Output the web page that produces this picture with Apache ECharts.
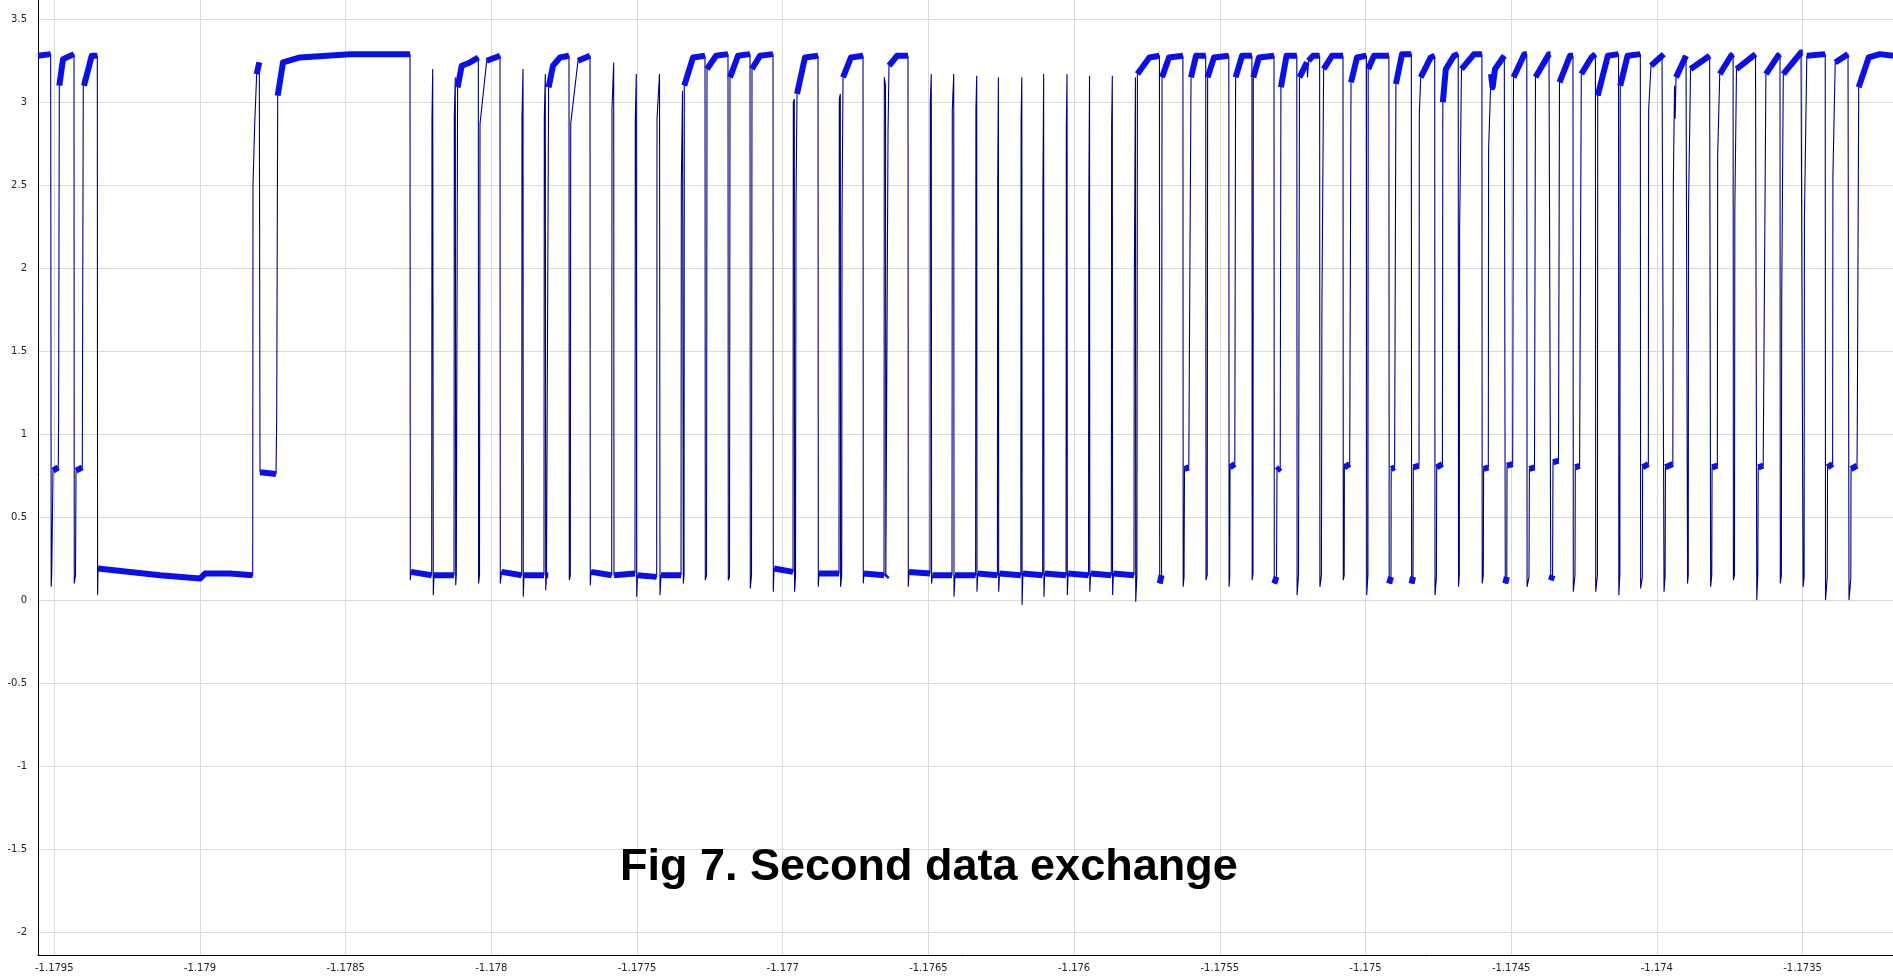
<!DOCTYPE html>
<html>
<head>
<meta charset="utf-8">
<script src="https://cdn.jsdelivr.net/npm/echarts@6/dist/echarts.min.js"></script>
<style>
html,body{margin:0;padding:0;background:#fff;}
#chart{width:1893px;height:977px;}
</style>
</head>
<body>
<div id="chart"></div>
<script>
// Time axis origin (seconds); sample times are stored as microseconds after it
const timeOrigin = -1.1795;
const xRange = [-1.17955594, -1.1731896];
const yRange = [-2.1386, 3.6162];
const chartTitle = 'Fig 7. Second data exchange';

// Trace vertices: time offset (µs after timeOrigin)
const timeUs = [
  -55.9, -12.4, -10.6, -8.9, -5.8, -4.5, 13.7, 14.8, 17.2, 29.9, 67.6,
  68.6, 72.8, 74.5, 96.1, 96.8, 99.5, 101.9, 128.4, 147.6,
  148.6, 150.0, 259.8, 362.8, 500.0, 517.2, 603.0, 680.9,
  681.9, 687.8, 694.6, 703.6, 706.0, 712.8, 760.9, 763.3, 766.7, 784.9, 843.2, 1014.8, 1220.8,
  1221.8, 1224.2, 1295.2, 1296.2, 1298.7, 1300.7, 1303.1, 1371.8,
  1372.8, 1376.2, 1377.6, 1379.7, 1383.1, 1384.1, 1398.2, 1426.7, 1455.2,
  1456.2, 1459.3, 1461.0, 1484.0, 1529.6,
  1530.7, 1534.8, 1604.1, 1605.1, 1608.6, 1609.6, 1612.0, 1680.6,
  1681.7, 1685.1, 1686.5, 1689.2, 1695.4, 1696.4, 1711.5, 1735.5, 1766.4,
  1767.5, 1770.9, 1772.3, 1797.3, 1838.5,
  1839.5, 1842.0, 1913.0, 1914.0, 1919.8, 1920.9, 1992.9,
  1994.0, 1997.4, 1998.8, 2001.5, 2067.4,
  2068.5, 2077.1, 2078.8, 2082.2, 2150.9,
  2151.9, 2156.0, 2158.8, 2161.2, 2162.2, 2192.1, 2233.2,
  2234.2, 2238.4, 2240.1, 2271.0, 2312.1,
  2313.2, 2317.3, 2319.0, 2346.5, 2387.6,
  2388.7, 2392.8, 2394.5, 2421.9, 2466.6,
  2467.6, 2470.0, 2535.2, 2536.3, 2539.7, 2540.7, 2543.8, 2545.5, 2549.0, 2576.4, 2621.1,
  2622.1, 2624.5, 2693.1, 2694.2, 2697.6, 2698.6, 2702.4, 2703.4, 2706.9, 2734.3, 2775.5,
  2776.5, 2778.9, 2847.6, 2848.6, 2852.7, 2853.7, 2859.6, 2861.3, 2864.7, 2892.2, 2929.9,
  2930.9, 2933.3, 3005.4, 3006.4, 3009.8, 3010.9, 3014.0, 3080.9,
  3081.9, 3086.8, 3087.8, 3091.2,
  3161.9, 3163.0, 3165.7, 3166.7, 3169.5,
  3236.7, 3237.7, 3240.1, 3241.2, 3243.9,
  3317.1, 3318.1, 3320.5, 3321.5, 3324.3,
  3392.0, 3393.0, 3395.4, 3396.5, 3399.2,
  3472.3, 3473.3, 3475.7, 3476.7, 3479.5,
  3549.5, 3550.5, 3552.9, 3553.9, 3556.7,
  3627.7, 3628.7, 3631.1, 3632.1, 3634.9,
  3705.5, 3706.6, 3710.4, 3711.4, 3715.5, 3717.2, 3758.4, 3792.8,
  3793.8, 3800.0, 3801.7, 3825.7, 3873.4,
  3874.4, 3877.2, 3878.9, 3893.6, 3895.4, 3901.2, 3918.4, 3951.7,
  3952.7, 3956.8, 3958.2, 3980.2, 4030.9,
  4031.9, 4034.0, 4035.0, 4051.5, 4054.2, 4076.2, 4110.2,
  4111.2, 4114.0, 4115.0, 4134.6, 4186.0,
  4187.0, 4194.6, 4196.3, 4207.3, 4209.7, 4229.0, 4264.3,
  4265.3, 4270.1, 4273.5, 4298.9, 4301.0, 4304.4, 4319.9, 4342.6,
  4343.6, 4348.7, 4350.4, 4356.3, 4385.1, 4422.8,
  4423.8, 4426.9, 4427.6, 4445.8, 4450.3, 4470.9, 4503.1,
  4504.2, 4508.3, 4509.3, 4529.2, 4580.3,
  4581.4, 4587.5, 4588.2, 4599.9, 4604.4, 4625.3, 4657.3,
  4658.3, 4663.1, 4664.1, 4683.7, 4684.7, 4689.5, 4723.8, 4737.5,
  4738.6, 4743.4, 4744.4, 4764.0, 4765.4, 4775.7, 4803.8, 4818.2,
  4819.3, 4822.0, 4823.0, 4829.5, 4872.4, 4899.5,
  4900.6, 4904.3, 4905.4, 4921.5, 4922.5, 4930.8, 4936.3, 4944.5, 4976.4, 4978.8,
  4979.8, 4985.0, 4985.7, 5005.2, 5008.0, 5045.4, 5053.6,
  5054.6, 5061.1, 5062.5, 5080.0, 5083.4, 5129.8, 5134.9,
  5135.9, 5142.1, 5143.5, 5162.4, 5165.8, 5201.8, 5212.1,
  5213.2, 5219.0, 5220.0, 5234.8, 5240.6, 5275.3, 5289.1,
  5290.1, 5296.0, 5297.0, 5331.7, 5368.4,
  5369.5, 5372.9, 5374.3, 5399.4, 5443.2,
  5444.3, 5450.1, 5451.1, 5470.7, 5471.7, 5479.9, 5517.7, 5523.5,
  5524.6, 5528.3, 5529.4, 5554.8, 5556.5, 5560.6, 5562.7, 5565.8, 5600.1, 5604.2,
  5605.3, 5607.7, 5608.7, 5615.6, 5681.1, 5683.5,
  5684.6, 5688.4, 5689.4, 5707.6, 5708.6, 5715.8, 5754.6, 5761.6,
  5762.7, 5766.4, 5767.5, 5773.3, 5838.5, 5841.9,
  5842.9, 5846.4, 5847.8, 5864.9, 5874.2, 5915.7, 5922.6,
  5923.6, 5927.4, 5928.4, 5933.9, 5994.7, 6000.9,
  6001.9, 6005.3, 6006.4, 6014.6, 6077.8,
  6078.8, 6084.7, 6085.7, 6103.2, 6104.2, 6112.1, 6156.0, 6158.4,
  6159.4, 6165.6, 6166.3, 6186.9, 6187.9, 6192.7, 6227.0, 6265.8, 6310.4
];

// Trace vertices: voltage (V)
const volts = [
  3.28, 3.29, 0.08, 0.15, 0.15, 0.78, 0.80, 1.09, 3.10, 3.26, 3.29,
  0.10, 0.15, 0.78, 0.80, 1.32, 3.15, 3.10, 3.28, 3.28,
  0.03, 0.19, 0.17, 0.15, 0.13, 0.16, 0.16, 0.15,
  2.50, 2.87, 3.17, 3.24, 0.77, 0.76, 0.76, 1.10, 3.04, 3.24, 3.27, 3.29, 3.29,
  0.12, 0.17, 0.15, 2.90, 3.20, 0.03, 0.15, 0.15,
  2.91, 3.15, 0.09, 0.15, 0.15, 3.09, 3.22, 3.24, 3.27,
  0.10, 0.15, 2.87, 3.25, 3.28,
  0.10, 0.17, 0.15, 2.90, 3.20, 0.02, 0.15, 0.15,
  2.91, 3.17, 0.06, 0.15, 0.15, 3.09, 3.22, 3.27, 3.28,
  0.12, 0.15, 2.87, 3.25, 3.28,
  0.09, 0.17, 0.15, 2.96, 3.24, 0.15, 0.16,
  2.90, 3.17, 0.02, 0.15, 0.14,
  2.90, 3.17, 0.03, 0.15, 0.15,
  2.50, 3.07, 0.10, 0.15, 3.10, 3.27, 3.28,
  0.12, 0.15, 3.20, 3.28, 3.29,
  0.12, 0.14, 3.15, 3.28, 3.29,
  0.07, 0.15, 3.20, 3.28, 3.29,
  0.05, 0.19, 0.17, 3.00, 3.02, 0.05, 0.15, 2.40, 3.05, 3.27, 3.28,
  0.08, 0.16, 0.16, 3.02, 3.05, 0.08, 0.15, 2.28, 3.15, 3.27, 3.28,
  0.10, 0.16, 0.15, 3.15, 3.10, 0.14, 0.15, 2.82, 3.22, 3.28, 3.28,
  0.08, 0.17, 0.16, 3.00, 3.17, 0.10, 0.15, 0.15,
  2.95, 3.17, 0.02, 0.15,
  0.15, 2.95, 3.16, 0.05, 0.16,
  0.15, 2.50, 3.15, 0.05, 0.16,
  0.15, 2.90, 3.15, -0.03, 0.16,
  0.15, 2.50, 3.17, 0.02, 0.16,
  0.15, 2.85, 3.17, 0.03, 0.16,
  0.15, 2.40, 3.16, 0.05, 0.16,
  0.15, 2.85, 3.16, 0.03, 0.16,
  0.15, 1.90, 3.15, -0.01, 0.15, 3.17, 3.27, 3.28,
  0.10, 0.15, 3.15, 3.27, 3.28,
  0.08, 0.14, 0.79, 0.80, 1.40, 3.15, 3.28, 3.28,
  0.12, 0.15, 3.15, 3.27, 3.28,
  0.08, 0.14, 0.80, 0.82, 3.15, 3.28, 3.28,
  0.12, 0.16, 3.15, 3.27, 3.28,
  0.10, 0.14, 0.78, 0.80, 3.09, 3.28, 3.28,
  0.03, 0.15, 3.15, 3.24, 3.15, 3.25, 3.28, 3.28,
  0.08, 0.15, 1.75, 3.20, 3.28, 3.28,
  0.12, 0.15, 0.80, 0.82, 3.12, 3.27, 3.28,
  0.03, 0.15, 3.20, 3.28, 3.28,
  0.10, 0.14, 0.79, 0.80, 3.11, 3.29, 3.29,
  0.10, 0.14, 0.80, 0.81, 2.93, 3.15, 3.27, 3.28,
  0.03, 0.14, 0.80, 0.82, 3.00, 3.20, 3.28, 3.29,
  0.08, 0.15, 2.23, 3.20, 3.29, 3.29,
  0.10, 0.15, 0.79, 0.80, 2.72, 3.17, 3.09, 3.20, 3.28, 3.28,
  0.10, 0.14, 0.81, 0.82, 3.15, 3.29, 3.29,
  0.08, 0.14, 0.79, 0.80, 3.15, 3.29, 3.29,
  0.12, 0.15, 0.83, 0.84, 3.12, 3.28, 3.28,
  0.05, 0.15, 0.80, 0.81, 3.17, 3.27, 3.29,
  0.05, 0.15, 3.04, 3.28, 3.29,
  0.03, 0.15, 3.10, 3.28, 3.29,
  0.07, 0.14, 0.80, 0.82, 2.95, 3.22, 3.28, 3.29,
  0.05, 0.15, 0.80, 0.82, 2.50, 3.10, 2.90, 3.15, 3.28, 3.28,
  0.10, 0.15, 2.37, 3.20, 3.28, 3.29,
  0.08, 0.15, 0.80, 0.81, 2.67, 3.17, 3.28, 3.29,
  0.12, 0.15, 2.34, 3.20, 3.29, 3.29,
  0.00, 0.15, 0.80, 0.81, 3.17, 3.28, 3.29,
  0.10, 0.15, 1.80, 3.17, 3.30, 3.30,
  0.08, 0.14, 2.30, 3.28, 3.29,
  0.00, 0.14, 0.80, 0.82, 2.56, 3.24, 3.29, 3.29,
  0.00, 0.13, 0.79, 0.81, 1.07, 3.09, 3.27, 3.29, 3.28
];

// Build the series data
const trace = timeUs.map((u, i) => [timeOrigin + u * 1e-6, volts[i]]);

// Noisy settled stretches (high, low and 0.8 V steps) drawn as a thicker band
const plateau = [];
let open = false;
for (let i = 0; i < trace.length - 1; i++) {
  const dt = timeUs[i + 1] - timeUs[i];
  const lo = Math.min(volts[i], volts[i + 1]);
  const hi = Math.max(volts[i], volts[i + 1]);
  const settled = (hi - lo) < 0.35 && dt >= 4.5 && lo >= 0.09 && !(lo < 3.0 && hi > 2.5);
  if (settled) {
    if (!open) {
      plateau.push([trace[i][0], null]);
      plateau.push(trace[i]);
      open = true;
    }
    plateau.push(trace[i + 1]);
  } else {
    open = false;
  }
}

const chart = echarts.init(document.getElementById('chart'), null, {renderer: 'canvas'});
const labelStyle = {fontFamily: 'DejaVu Sans', fontSize: 10, color: '#222'};
chart.setOption({
  animation: false,
  backgroundColor: '#ffffff',
  grid: {left: 38, right: 0, top: 0, bottom: 22, containLabel: false, outerBoundsMode: 'none'},
  xAxis: {
    type: 'value',
    min: xRange[0],
    max: xRange[1],
    splitNumber: 12,
    axisLine: {show: true, onZero: false, lineStyle: {color: '#000', width: 1}},
    axisTick: {show: false},
    axisLabel: Object.assign({margin: 8, showMinLabel: false, showMaxLabel: false}, labelStyle),
    splitLine: {show: true, showMinLine: false, showMaxLine: false, lineStyle: {color: '#d9d9d9', width: 1}}
  },
  yAxis: {
    type: 'value',
    min: yRange[0],
    max: yRange[1],
    splitNumber: 11,
    axisLine: {show: true, onZero: false, lineStyle: {color: '#000', width: 1}},
    axisTick: {show: false},
    axisLabel: Object.assign({margin: 11, showMinLabel: false, showMaxLabel: false}, labelStyle),
    splitLine: {show: true, showMinLine: false, showMaxLine: false, lineStyle: {color: '#d9d9d9', width: 1}}
  },
  graphic: [{
    type: 'text',
    left: 620,
    top: 845,
    z: 100,
    style: {
      text: chartTitle,
      font: 'bold 45px "Liberation Sans", Arial, sans-serif',
      fill: '#000'
    }
  }],
  series: [
    {
      type: 'line',
      data: trace,
      showSymbol: false,
      symbol: 'none',
      clip: true,
      lineStyle: {color: '#00007c', width: 1.1},
      z: 2
    },
    {
      type: 'line',
      data: plateau,
      showSymbol: false,
      symbol: 'none',
      connectNulls: false,
      clip: true,
      lineStyle: {color: '#0a10e8', width: 6, cap: 'butt', join: 'round'},
      z: 3
    }
  ]
});
</script>
</body>
</html>
